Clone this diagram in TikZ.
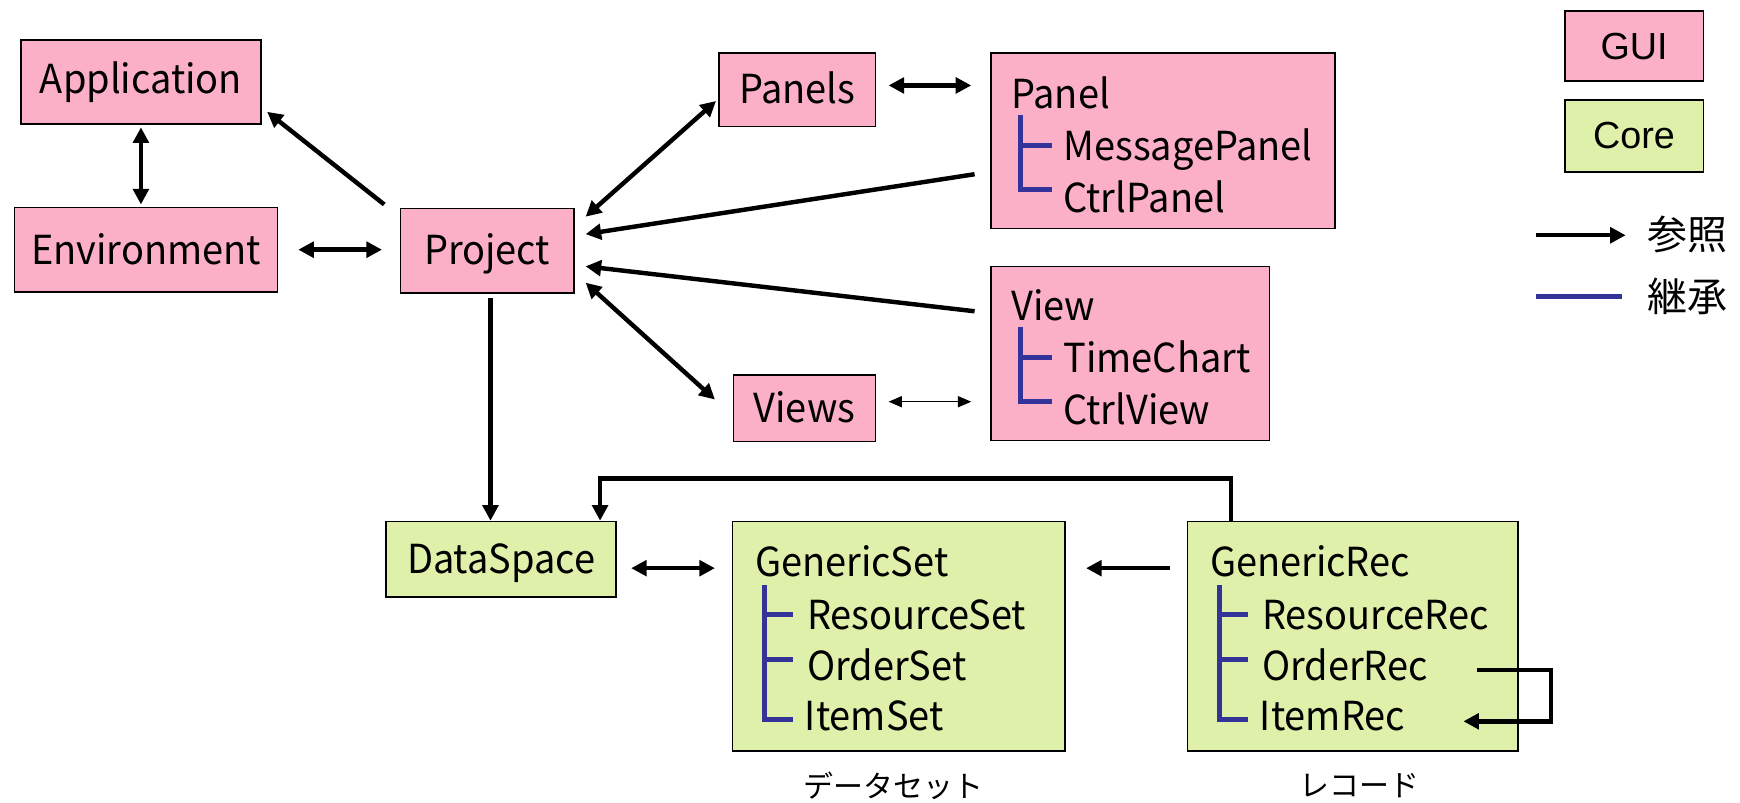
\documentclass[tikz,border=0pt]{standalone}
\usepackage{fontspec}
\setmainfont{Noto Sans CJK JP}[FakeStretch=0.95]
\newfontfamily\capfont{Noto Sans CJK JP}
\newfontfamily\legendfont{Liberation Sans}
\usetikzlibrary{arrows.meta,calc}

\definecolor{guipink}{RGB}{252,176,200}
\definecolor{coregreen}{RGB}{222,240,170}
\definecolor{inherit}{RGB}{51,51,153}

\begin{document}
\begin{tikzpicture}[x=0.5pt,y=-0.5pt,
  txt/.style={font=\fontsize{18}{20}\selectfont},
  box/.style={draw=black, line width=0.75pt, inner sep=0pt, txt},
  gui/.style={box, fill=guipink},
  core/.style={box, fill=coregreen},
  low/.style={text height=12.5pt, text depth=0pt},
  lbl/.style={inner sep=0pt, anchor=west, txt, text height=12.5pt, text depth=0pt},
  ref/.style={line width=2pt, -{Triangle[length=7pt,width=7pt]}},
  bref/.style={line width=2pt, {Triangle[length=7pt,width=7pt]}-{Triangle[length=7pt,width=7pt]}},
  tref/.style={line width=0.6pt, {Triangle[length=6pt,width=5pt]}-{Triangle[length=6pt,width=5pt]}},
  inh/.style={draw=inherit, line width=2.2pt},
]
\useasboundingbox (0,0) rectangle (1568,723);

% ---------- GUI classes ----------
\node[gui, minimum width=108pt,  minimum height=38pt] (app)  at (127,74)    {Application};
\node[gui, minimum width=118.5pt,minimum height=38pt] (env)  at (131.5,225) {Environment};
\node[gui, low, minimum width=78pt,   minimum height=38pt] (proj) at (439,226)   {Project};
\node[gui, low, minimum width=70.5pt, minimum height=33pt] (panels) at (718.5,81) {Panels};
\node[gui, low, minimum width=64pt,   minimum height=30pt] (views)  at (725,368)  {Views};

\node[gui, minimum width=155pt,  minimum height=79pt]   (pbox) at (1048,127)   {};
\node[gui, minimum width=125.5pt,minimum height=78.5pt] (vbox) at (1018.5,318.5) {};

\node[lbl] (pnlA) at (911,85)  {Panel};
\node[lbl] (pnlB) at (958,132) {MessagePanel};
\node[lbl] (pnlC) at (958,179) {CtrlPanel};
\draw[inh] (920,104) -- (920,171) -- (948,171);
\draw[inh] (920,131) -- (948,131);

\node[lbl] (viwA) at (911,276) {View};
\node[lbl] (viwB) at (958,323) {TimeChart};
\node[lbl] (viwC) at (958,370) {CtrlView};
\draw[inh] (920,295) -- (920,362) -- (948,362);
\draw[inh] (920,322) -- (948,322);

% ---------- Core classes ----------
\node[core, low, minimum width=103.5pt, minimum height=34pt] (ds) at (451.5,504) {DataSpace};
\node[core, minimum width=150pt, minimum height=103.5pt] (gset) at (810,573.5)  {};
\node[core, minimum width=149pt, minimum height=103.5pt] (grec) at (1219,573.5) {};

\node[lbl] (setA) at (680,507) {GenericSet};
\node[lbl] (setB) at (727,555) {ResourceSet};
\node[lbl] (setC) at (727,601) {OrderSet};
\node[lbl] (setD) at (725,646) {ItemSet};
\draw[inh] (689,527) -- (689,648) -- (715,648);
\draw[inh] (689,554) -- (715,554);
\draw[inh] (689,594) -- (715,594);

\node[lbl] (recA) at (1090,507) {GenericRec};
\node[lbl] (recB) at (1137,555) {ResourceRec};
\node[lbl] (recC) at (1137,601) {OrderRec};
\node[lbl] (recD) at (1135,646) {ItemRec};
\draw[inh] (1099,527) -- (1099,648) -- (1125,648);
\draw[inh] (1099,554) -- (1125,554);
\draw[inh] (1099,594) -- (1125,594);

\node[font=\capfont\fontsize{13.5}{15}\selectfont, inner sep=0pt] (setcap) at (805,708)  {データセット};
\node[font=\capfont\fontsize{13.5}{15}\selectfont, inner sep=0pt] (reccap) at (1225,708) {レコード};

% ---------- references ----------
\draw[bref] ($(app.south)+(0,2)$) -- ($(app.south |- env.north)+(0,-2)$);
\draw[bref, shorten <=9pt, shorten >=8pt] (env.east) -- (env.east -| proj.west);
\draw[ref] ($(proj.north west)+(-14,-3)$) -- ($(app.south east)+(5,-12)$);

\draw[bref] ($(proj.north east)+(10,8)$) -- ($(panels.west)+(-2,10)$);
\draw[ref] ($(pbox.west)+(-14,30)$) -- ($(proj.east)+(10,-15)$);
\draw[ref] ($(vbox.west)+(-14,-38)$) -- ($(proj.east)+(10,14)$);
\draw[bref] ($(proj.south east)+(10,-10)$) -- ($(views.west)+(-16,-8)$);

\draw[bref] ($(panels.east)+(11,-4)$) -- ($(panels.east -| pbox.west)+(-17,-4)$);
\draw[tref] ($(views.east)+(11,-6)$) -- ($(views.east -| vbox.west)+(-17,-6)$);

\coordinate (pdrop) at ($(proj.south)+(3,4)$);
\draw[ref] (pdrop) -- (pdrop |- ds.north);
\coordinate (rup) at ($(grec.north west)+(40,0)$);
\coordinate (rin) at ($(ds.north east)+(-15,0)$);
\draw[ref, line join=miter] (rup) |- ($(rin)+(0,-38)$) -- (rin);

\draw[bref] ($(ds.east)+(13,8)$) -- ($(ds.east -| gset.west)+(-15,8)$);
\draw[ref] ($(grec.west |- setA)+(-15,5)$) -- ($(gset.east |- setA)+(18,5)$);

\draw[ref, line join=miter] ($(grec.east |- recC)+(-38,3)$) -- ($(grec.east |- recC)+(29,3)$)
   |- ($(grec.east |- recD)+(-50,4)$);

% ---------- legend ----------
\node[gui,  minimum width=62.5pt, minimum height=31.5pt, font=\legendfont\fontsize{17}{20}\selectfont] (lgui)  at (1472.5,41.5)  {GUI};
\node[core, minimum width=62.5pt, minimum height=32.5pt, font=\legendfont\fontsize{17}{20}\selectfont] (lcore) at (1472.5,122.5) {Core};
\coordinate (lrefA) at (1384,212);
\coordinate (lrefB) at (1465,212);
\coordinate (linhA) at (1384,267);
\coordinate (linhB) at (1462,267);
\draw[ref] (lrefA) -- (lrefB);
\draw[inh] (linhA) -- (linhB);
\node[lbl, font=\capfont\fontsize{18}{20}\selectfont] (lref) at (1484,212) {参照};
\node[lbl, font=\capfont\fontsize{18}{20}\selectfont] (linh) at (1484,268) {継承};
\end{tikzpicture}
\end{document}
